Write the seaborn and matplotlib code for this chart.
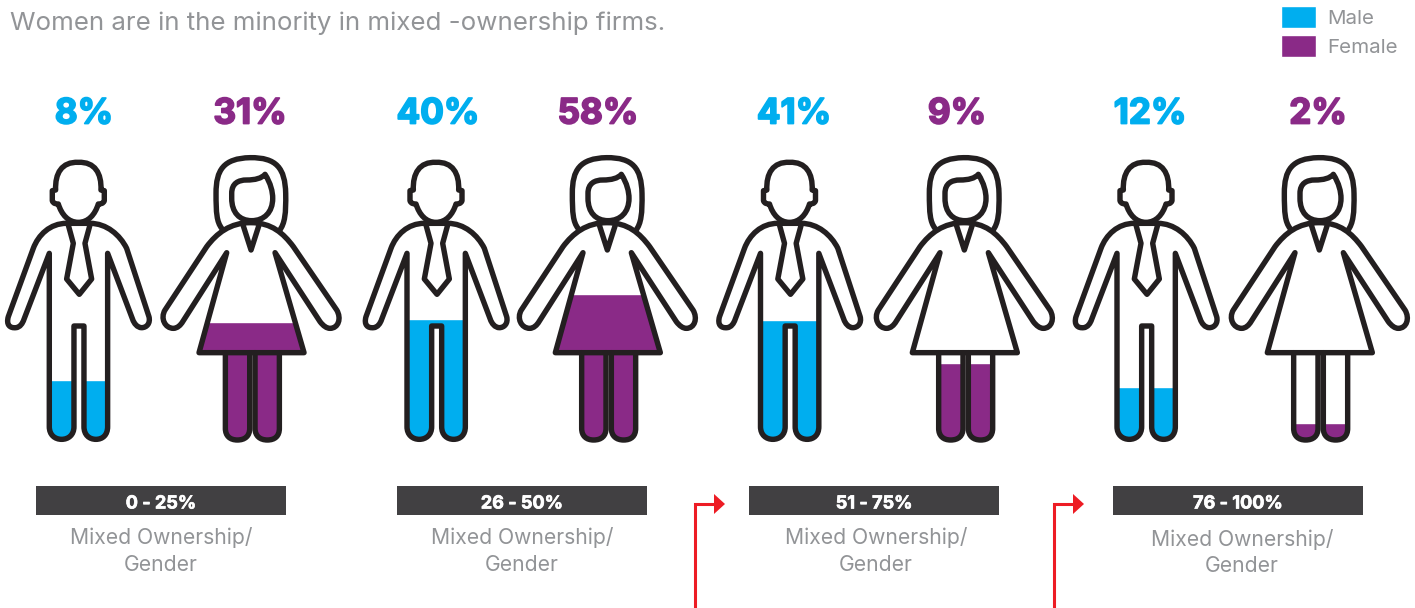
import matplotlib
matplotlib.use("Agg")
import matplotlib.pyplot as plt
import matplotlib.patheffects as pe
import pandas as pd
import seaborn as sns
from matplotlib.patches import Rectangle, Polygon, PathPatch
from matplotlib.path import Path

# ---- data
title = "Women are in the minority in mixed -ownership firms."
groups = ["0 - 25%", "26 - 50%", "51 - 75%", "76 - 100%"]
male_pct = [8, 40, 41, 12]
female_pct = [31, 58, 9, 2]
# height of the coloured fill inside each figure (px above the feet line)
male_fill = [65, 126, 125, 58]
female_fill = [123, 151, 82, 22]

BLUE, PURPLE = "#00aeef", "#8a2a87"
INK, GREY, DARK, RED = "#231f20", "#929497", "#414042", "#ed1c24"

W, H = 1415, 608
FEET = 445

sns.set_theme(style="white")
plt.rcParams["font.family"] = ["Inter", "DejaVu Sans"]

fig = plt.figure(figsize=(W / 100, H / 100), dpi=100)
ax_fill = fig.add_axes([0, (H - FEET) / H, 1, FEET / H])
ax = fig.add_axes([0, 0, 1, 1], facecolor="none")
ax.set_xlim(0, W)
ax.set_ylim(H, 0)
ax.axis("off")

man_x = [78.3, 436, 789.5, 1146]
woman_x = [250.7, 607, 964, 1319]
pct_x = [(84, 250), (438, 598), (794, 957), (1150, 1318)]
bar_left = [36, 397, 749, 1113]
sub_x = [161, 522, 876, 1242]
sub_dy = [0, 0, 0, 1]


def build(segs, close=False):
    """segs: list of point tuples, 1 point = line, 3 points = cubic"""
    verts, codes = [segs[0]], [Path.MOVETO]
    for s in segs[1:]:
        if len(s) == 2 and not isinstance(s[0], tuple):
            verts.append(s)
            codes.append(Path.LINETO)
        else:
            verts.extend(s)
            codes.extend([Path.CURVE4] * 3)
    if close:
        verts.append(verts[0])
        codes.append(Path.CLOSEPOLY)
    return Path(verts, codes)


# pictogram outlines in a 3x template space; figure axis is at ox
MAN_OX = 235
MAN_BODY = build([
    (235, 430), (200, 430), ((150, 430), (115, 465), (100, 505)), (25, 710),
    ((18, 735), (30, 745), (48, 743)), ((60, 742), (68, 730), (72, 718)),
    (148, 520), (148, 1040),
    ((148, 1065), (165, 1078), (185, 1078)), ((205, 1078), (222, 1065), (222, 1040)),
    (222, 738), (252, 738), (252, 1040),
    ((252, 1065), (268, 1078), (288, 1078)), ((308, 1078), (323, 1065), (323, 1040)),
    (323, 520), (398, 718),
    ((402, 730), (412, 743), (425, 743)), ((440, 743), (452, 730), (447, 710)),
    (380, 505), ((360, 465), (320, 430), (270, 430)),
], close=True)
MAN_HEAD = build([
    (235, 247), ((285, 245), (305, 280), (303, 330)), (313, 332), (313, 362),
    ((310, 372), (300, 372), (295, 372)), ((285, 404), (265, 427), (235, 427)),
    ((205, 427), (185, 404), (175, 372)), ((170, 372), (160, 372), (157, 362)),
    (157, 332), (167, 330), ((165, 280), (185, 245), (235, 247)),
], close=True)
MAN_TIE = build([
    (205, 435), (220, 490), (200, 597), (238, 643), (275, 597), (255, 490), (270, 435),
])
MAN_CLIP = build([
    (148, 400), (148, 1040),
    ((148, 1065), (165, 1078), (185, 1078)), ((205, 1078), (222, 1065), (222, 1040)),
    (222, 738), (252, 738), (252, 1040),
    ((252, 1065), (268, 1078), (288, 1078)), ((308, 1078), (323, 1065), (323, 1040)),
    (323, 400),
], close=True)

WOMAN_OX = 752
WOMAN_BODY = build([
    (752, 428), ((690, 428), (650, 460), (620, 500)), (495, 690),
    ((480, 715), (495, 745), (520, 745)), ((532, 745), (542, 735), (548, 725)),
    (680, 518), (597, 818), (912, 818), (825, 518), (960, 725),
    ((970, 738), (980, 745), (990, 745)), ((1015, 745), (1025, 715), (1010, 690)),
    (880, 500), ((850, 460), (815, 428), (752, 428)),
], close=True)
WOMAN_HAIR = build([
    (665, 445), ((650, 425), (648, 400), (648, 340)), ((648, 270), (670, 235), (750, 233)),
    ((830, 232), (855, 265), (857, 340)), ((858, 400), (855, 430), (838, 452)),
])
WOMAN_FACE = build([
    (695, 340), ((695, 310), (715, 300), (740, 300)), ((765, 300), (785, 295), (795, 283)),
    ((812, 310), (818, 335), (818, 355)), ((818, 397), (792, 422), (755, 422)),
    ((718, 422), (695, 397), (695, 355)),
], close=True)
WOMAN_COLLAR = build([(728, 432), (753, 510), (778, 432)])
LEG_L = build([
    (676, 818), (676, 1045), ((676, 1068), (690, 1080), (712, 1080)),
    ((735, 1080), (749, 1068), (749, 1045)), (749, 818),
])
LEG_R = build([
    (765, 818), (765, 1045), ((765, 1068), (780, 1080), (802, 1080)),
    ((825, 1080), (838, 1068), (838, 1045)), (838, 818),
])
WOMAN_CLIP = Path.make_compound_path(
    Path([(680, 518), (597, 818), (912, 818), (825, 518), (680, 518)], closed=True),
    Path(list(LEG_L.vertices) + [LEG_L.vertices[0]], list(LEG_L.codes) + [Path.CLOSEPOLY]),
    Path(list(LEG_R.vertices) + [LEG_R.vertices[0]], list(LEG_R.codes) + [Path.CLOSEPOLY]),
)


def place(path, ox, cx):
    v = path.vertices.copy()
    v[:, 0] = (v[:, 0] - ox) / 3 + cx
    v[:, 1] = v[:, 1] / 3 + 80
    return Path(v, path.codes)


# ---- coloured fills, one bar per figure
df = pd.DataFrame({
    "x": man_x + woman_x,
    "fill": male_fill + female_fill,
    "gender": ["Male"] * 4 + ["Female"] * 4,
})
sns.barplot(data=df, x="x", y="fill", hue="gender", native_scale=True, dodge=False,
            palette={"Male": BLUE, "Female": PURPLE}, saturation=1, width=0.9,
            legend=False, ax=ax_fill)
ax_fill.set_xlim(0, W)
ax_fill.set_ylim(0, FEET)
ax_fill.axis("off")

for bar in ax_fill.patches:
    c = bar.get_x() + bar.get_width() / 2
    if any(abs(c - m) < 1 for m in man_x):
        clip = place(MAN_CLIP, MAN_OX, c)
    else:
        clip = place(WOMAN_CLIP, WOMAN_OX, c)
    bar.set_clip_path(clip, ax.transData)

# ---- outlines
line = dict(edgecolor=INK, facecolor="none", lw=3.9, joinstyle="round", capstyle="round")
for cx in man_x:
    for p in (MAN_BODY, MAN_HEAD, MAN_TIE):
        ax.add_patch(PathPatch(place(p, MAN_OX, cx), **line))
for cx in woman_x:
    for p in (WOMAN_HAIR, WOMAN_BODY, WOMAN_FACE, WOMAN_COLLAR, LEG_L, LEG_R):
        ax.add_patch(PathPatch(place(p, WOMAN_OX, cx), **line))

# ---- percent labels
for (xm, xf), m, f in zip(pct_x, male_pct, female_pct):
    for x, v, col in ((xm, m, BLUE), (xf, f, PURPLE)):
        t = ax.text(x, 111, f"{v}%", color=col, fontsize=25.2, fontweight="bold",
                    ha="center", va="center_baseline")
        t.set_path_effects([pe.withStroke(linewidth=1.3, foreground=col)])

# ---- group captions
for left, sx, dy, g in zip(bar_left, sub_x, sub_dy, groups):
    ax.add_patch(Rectangle((left, 486), 250, 29, facecolor=DARK, edgecolor="none"))
    t = ax.text(left + 125, 502, g, color="white", fontsize=13, fontweight="bold",
                ha="center", va="center_baseline")
    t.set_path_effects([pe.withStroke(linewidth=0.5, foreground="white")])
    ax.text(sx, 536 + dy, "Mixed Ownership/", color=GREY, fontsize=15.2, fontweight="normal", ha="center", va="center_baseline")
    ax.text(sx, 563 + dy, "Gender", color=GREY, fontsize=15.2, fontweight="normal", ha="center", va="center_baseline")

# ---- red connector arrows
for stem, base in [(694.5, 714), (1053.5, 1073)]:
    ax.plot([stem, stem, base], [H, 504, 504], color=RED, lw=2.2, solid_joinstyle="miter")
    ax.add_patch(Polygon([(base, 494), (base + 11, 504), (base, 514)], facecolor=RED, edgecolor="none"))

# ---- title and legend
ax.text(10, 21, title, color=GREY, fontsize=18.65, fontweight="normal", ha="left", va="center_baseline")
handles = [Rectangle((0, 0), 1, 1, facecolor=BLUE), Rectangle((0, 0), 1, 1, facecolor=PURPLE)]
ax.legend(handles, ["Male", "Female"], loc="upper left", bbox_to_anchor=(1280.5, 6),
          bbox_transform=ax.transData, frameon=False, fontsize=14.8, labelcolor=GREY,
          handlelength=1.75, handleheight=1.27, handletextpad=0.52, labelspacing=0.36,
          borderpad=0, borderaxespad=0)

fig.savefig("out.png", dpi=100)
